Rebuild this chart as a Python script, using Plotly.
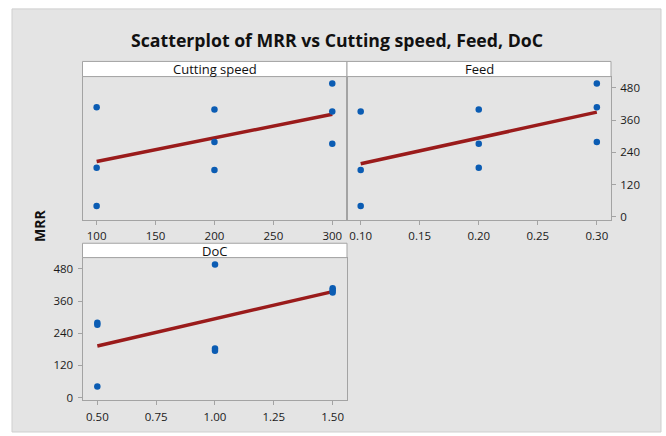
import numpy as np
import plotly.graph_objects as go

# Data (L9 design, MRR)
cutting_speed = [100, 100, 100, 200, 200, 200, 300, 300, 300]
feed = [0.1, 0.2, 0.3, 0.1, 0.2, 0.3, 0.1, 0.2, 0.3]
doc = [0.5, 1.0, 1.5, 1.0, 1.5, 0.5, 1.5, 0.5, 1.0]
mrr = [41, 183, 408, 175, 400, 279, 392, 272, 496]

panel_titles = ["Cutting speed", "Feed", "DoC"]
speed_ticks = [100, 150, 200, 250, 300]
feed_ticks = [0.10, 0.15, 0.20, 0.25, 0.30]
feed_ticktext = ["0.10", "0.15", "0.20", "0.25", "0.30"]
doc_ticks = [0.50, 0.75, 1.00, 1.25, 1.50]
doc_ticktext = ["0.50", "0.75", "1.00", "1.25", "1.50"]
mrr_ticks = [0, 120, 240, 360, 480]

W, H = 666, 436
def px(x):
    return x / W
def py(y):
    return 1 - y / H

FONT = "Open Sans"
BLUE = "#0b5cb3"
RED = "#9a1b1b"
GRID = "#a3a3a3"

fig = go.Figure()

factors = [cutting_speed, feed, doc]
for i, xs in enumerate(factors):
    xa = "x" if i == 0 else f"x{i+1}"
    ya = "y" if i == 0 else f"y{i+1}"
    slope, inter = np.polyfit(xs, mrr, 1)
    xl = np.array([min(xs), max(xs)])
    fig.add_trace(go.Scatter(x=xl, y=inter + slope * xl, mode="lines",
                             line=dict(color=RED, width=3.5),
                             xaxis=xa, yaxis=ya, hoverinfo="skip", showlegend=False))
    fig.add_trace(go.Scatter(x=xs, y=mrr, mode="markers",
                             marker=dict(color=BLUE, size=6.5),
                             xaxis=xa, yaxis=ya, showlegend=False))

yrange = [-10, 522]
def ax(**kw):
    d = dict(showgrid=False, zeroline=False, showline=True, linecolor=GRID, linewidth=1,
             mirror=True, ticks="outside", ticklen=4, tickcolor=GRID,
             ticklabelstandoff=2,
             tickfont=dict(family=FONT, size=11.5, color="#1a1a1a"))
    d.update(kw)
    return d

top0, top1 = 77.3, 221.7
bot0, bot1 = 260, 404
xl1, xm, xr = 82.5, 347, 611

fig.update_layout(
    width=W, height=H, margin=dict(l=0, r=0, t=0, b=0),
    paper_bgcolor="white", plot_bgcolor="white",
    xaxis=ax(domain=[px(xl1), px(xm)], range=[88, 312.5], tickvals=speed_ticks, anchor="y"),
    yaxis=ax(domain=[py(top1), py(top0)], range=yrange, tickvals=mrr_ticks, showticklabels=False,
             ticks="", anchor="x"),
    xaxis2=ax(domain=[px(xm), px(xr)], range=[0.0884, 0.312], tickvals=feed_ticks,
              ticktext=feed_ticktext, anchor="y2"),
    yaxis2=ax(domain=[py(top1), py(top0)], range=yrange, tickvals=mrr_ticks, side="right",
              anchor="x2"),
    xaxis3=ax(domain=[px(xl1), px(xm)], range=[0.437, 1.561], tickvals=doc_ticks,
              ticktext=doc_ticktext, anchor="y3"),
    yaxis3=ax(domain=[py(bot1), py(bot0)], range=yrange, tickvals=mrr_ticks, anchor="x3"),
)

shapes = [
    dict(type="rect", xref="paper", yref="paper", x0=px(12), x1=px(661), y0=py(436), y1=py(9),
         fillcolor="#e4e4e4", line=dict(color="#cfcfcf", width=1), layer="below"),
    dict(type="rect", xref="paper", yref="paper", x0=px(xl1), x1=px(xm), y0=py(top0), y1=py(62),
         fillcolor="white", line=dict(color=GRID, width=1)),
    dict(type="rect", xref="paper", yref="paper", x0=px(xm), x1=px(xr), y0=py(top0), y1=py(62),
         fillcolor="white", line=dict(color=GRID, width=1)),
    dict(type="rect", xref="paper", yref="paper", x0=px(xl1), x1=px(xm), y0=py(bot0), y1=py(245.5),
         fillcolor="white", line=dict(color=GRID, width=1)),
]
fig.update_layout(shapes=shapes)

ann = [
    dict(text="<b>Scatterplot of MRR vs Cutting speed, Feed, DoC</b>", x=px(337), y=py(40),
         font=dict(family=FONT, size=17.7, color="#111")),
    dict(text=panel_titles[0], x=px((xl1 + xm) / 2), y=py(69.5), font=dict(family=FONT, size=13, color="#111")),
    dict(text=panel_titles[1], x=px((xm + xr) / 2), y=py(69.5), font=dict(family=FONT, size=13, color="#111")),
    dict(text=panel_titles[2], x=px((xl1 + xm) / 2), y=py(253), font=dict(family=FONT, size=13, color="#111")),
    dict(text="<b>MRR</b>", x=px(40), y=py(228), textangle=-90, font=dict(family=FONT, size=14, color="#111")),
]
for a in ann:
    a.update(xref="paper", yref="paper", showarrow=False, xanchor="center", yanchor="middle")
fig.update_layout(annotations=ann)

fig.write_html("out.html")
